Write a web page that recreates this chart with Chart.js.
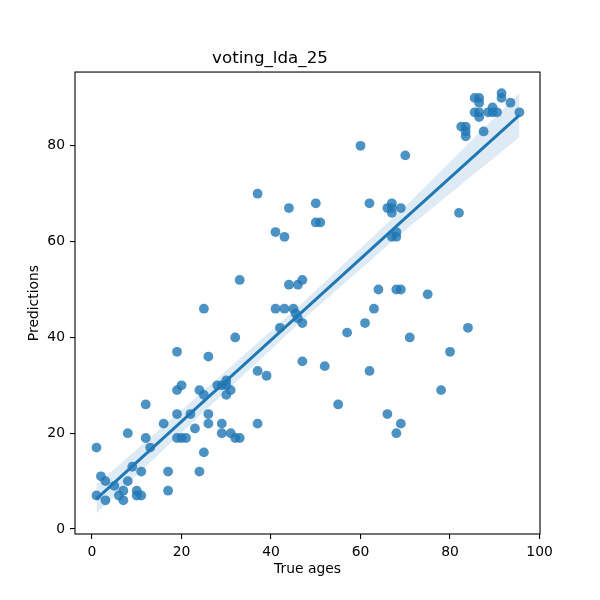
<!DOCTYPE html>
<html lang="en">
<head>
<meta charset="UTF-8">
<title>voting_lda_25</title>
<script src="https://cdn.jsdelivr.net/npm/chart.js"></script>
<style>
  html, body { margin: 0; padding: 0; background: #fff; }
  #wrap { width: 600px; height: 600px; }
</style>
</head>
<body>
<div id="wrap"><canvas id="chart" width="600" height="600"></canvas></div>
<script>
// values
const trueAges = [
  1, 2, 3, 1, 3, 5, 6, 7, 7, 8, 8, 9, 10, 10, 11, 11, 12, 12, 13, 16, 17, 17,
  19, 20, 19, 19, 20, 21, 22, 23, 24, 25, 25, 24, 26, 26, 28, 29, 29, 29, 30, 30, 30, 31, 31, 32, 33, 37,
  19, 25, 26, 32, 33, 37, 37, 39,
  41, 43, 45, 45.5, 46, 47, 42, 44, 46, 47, 57, 61, 47, 52, 55, 60, 70, 44, 50, 50, 51, 41, 43,
  62, 66, 67, 67, 67, 69, 68, 67, 68, 82, 64, 68, 69, 75, 63, 84, 71, 80, 62, 78, 66, 69, 68,
  85.5, 86.5, 86.5, 91.5, 91.5, 93.5, 95.5, 85.5, 86.5, 86.5, 88.5, 89.5, 89.5, 90.5, 82.5, 83.5, 83.5, 83.5, 87.5
];
const predictions = [
  17, 11, 10, 7, 6, 9, 7, 8, 6, 10, 20, 13, 8, 7, 7, 12, 26, 19, 17, 22, 12, 8,
  29, 30, 24, 19, 19, 19, 24, 21, 29, 28, 16, 12, 24, 22, 30, 30, 22, 20, 31, 30, 28, 29, 20, 19, 19, 22,
  37, 46, 36, 40, 52, 70, 33, 32,
  46, 46, 46, 45, 44, 43, 42, 51, 51, 52, 41, 43, 35, 34, 26, 80, 78, 67, 68, 64, 64, 62, 61,
  68, 67, 68, 66, 67, 67, 62, 61, 61, 66, 50, 50, 50, 49, 46, 42, 40, 37, 33, 29, 24, 22, 20,
  90, 90, 89, 91, 90, 89, 87, 87, 87, 86, 87, 88, 87, 87, 84, 84, 83, 82, 83
];

// regression line and its confidence band, also
const fitX = [1, 25, 47, 70, 95.5];
const fitY = [6.3, 26.7, 45.4, 64.9, 86.4];
const bandLow = [3.3, 24.5, 43.6, 62.4, 81.8];
const bandHigh = [9.3, 28.9, 47.2, 67.4, 91.0];

const xTicks = [0, 20, 40, 60, 80, 100];
const yTicks = [0, 20, 40, 60, 80];

const blue = '#1f77b4';

const points = trueAges.map((x, i) => ({ x, y: predictions[i] }));
const linePts = fitX.map((x, i) => ({ x, y: fitY[i] }));
const upperPts = fitX.map((x, i) => ({ x, y: bandHigh[i] }));
const lowerPts = fitX.map((x, i) => ({ x, y: bandLow[i] }));

// matplotlib draws a box on all four sides
const frame = {
  id: 'frame',
  afterDraw(chart) {
    const { ctx, chartArea: a } = chart;
    ctx.save();
    ctx.strokeStyle = '#000';
    ctx.lineWidth = 1.1;
    ctx.strokeRect(a.left, a.top, a.right - a.left, a.bottom - a.top);
    ctx.restore();
  }
};

const tickFont = { family: 'DejaVu Sans', size: 13.9 };

new Chart(document.getElementById('chart'), {
  type: 'scatter',
  data: {
    datasets: [
      {
        type: 'line',
        data: linePts,
        borderColor: blue,
        borderWidth: 3,
        pointRadius: 0,
        fill: false
      },
      {
        type: 'line',
        data: upperPts,
        borderWidth: 0,
        borderColor: 'rgba(0,0,0,0)',
        pointRadius: 0,
        fill: false
      },
      {
        type: 'line',
        data: lowerPts,
        borderWidth: 0,
        borderColor: 'rgba(0,0,0,0)',
        pointRadius: 0,
        fill: '-1',
        backgroundColor: 'rgba(31, 119, 180, 0.15)'
      },
      {
        data: points,
        backgroundColor: 'rgba(31, 119, 180, 0.8)',
        borderWidth: 0,
        pointRadius: 4.9,
        pointHoverRadius: 4.9
      }
    ]
  },
  options: {
    responsive: false,
    animation: false,
    devicePixelRatio: 1,
    layout: { padding: { top: 0, left: 0, right: 60, bottom: 0 } },
    plugins: {
      legend: { display: false },
      tooltip: { enabled: false },
      title: {
        display: true,
        text: 'voting_lda_25',
        color: '#000',
        font: { family: 'DejaVu Sans', size: 16.7, weight: 'normal' },
        padding: { top: 49, bottom: 3 }
      }
    },
    scales: {
      x: {
        type: 'linear',
        min: -3.8,
        max: 100.1,
        afterBuildTicks: s => { s.ticks = xTicks.map(v => ({ value: v })); },
        afterFit: s => { s.height = 66; },
        ticks: { color: '#000', font: tickFont, padding: 5, maxRotation: 0 },
        grid: { drawOnChartArea: false, drawTicks: true, tickLength: 5, color: '#000', lineWidth: 1.1 },
        border: { display: false },
        title: {
          display: true,
          text: 'True ages',
          color: '#000',
          font: tickFont,
          padding: { top: 0, bottom: 22.7 }
        }
      },
      y: {
        type: 'linear',
        min: -1.04,
        max: 95.4,
        afterBuildTicks: s => { s.ticks = yTicks.map(v => ({ value: v })); },
        afterFit: s => { s.width = 75; },
        ticks: { color: '#000', font: tickFont, padding: 5 },
        grid: { drawOnChartArea: false, drawTicks: true, tickLength: 5, color: '#000', lineWidth: 1.1 },
        border: { display: false },
        title: {
          display: true,
          text: 'Predictions',
          color: '#000',
          font: tickFont,
          padding: { top: 25.7, bottom: 0 }
        }
      }
    }
  },
  plugins: [frame]
});
</script>
</body>
</html>
